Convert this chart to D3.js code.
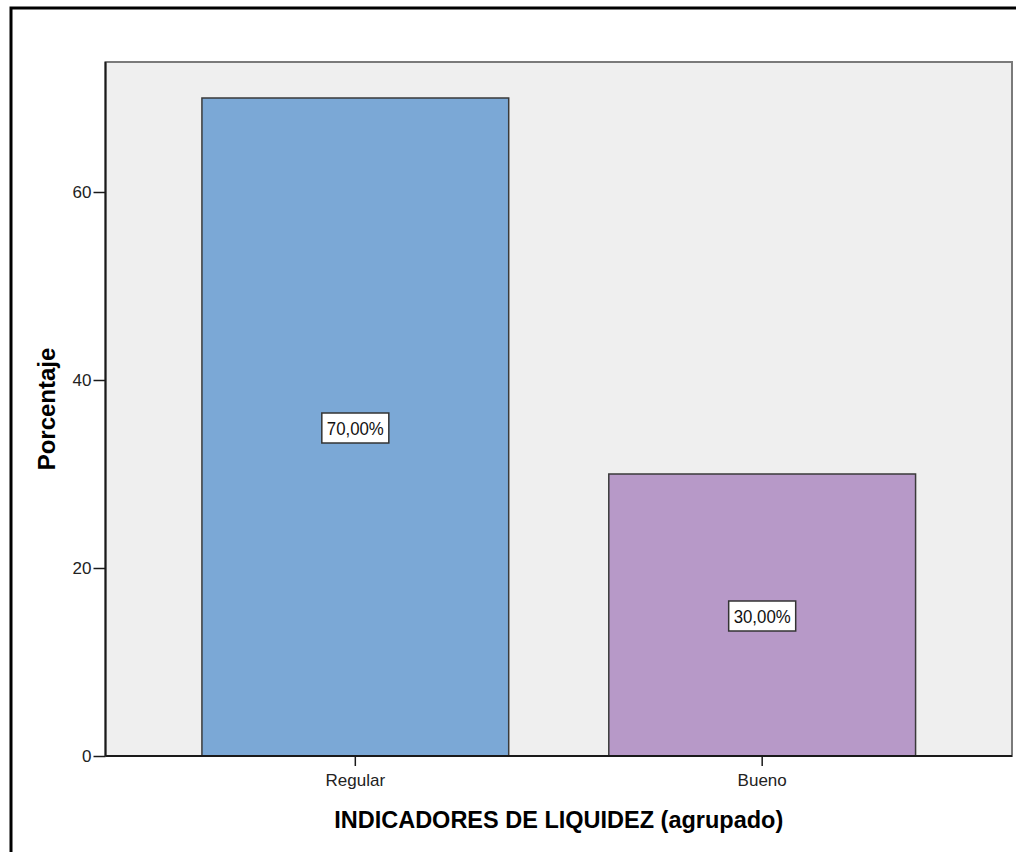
<!DOCTYPE html>
<html>
<head>
<meta charset="utf-8">
<script src="https://cdn.jsdelivr.net/npm/d3@7"></script>
<style>
body { margin: 0; background: #fff; }
text { font-family: Arial, "Liberation Sans", sans-serif; }
</style>
</head>
<body>
<svg id="canvas" width="1016" height="852"></svg>
<script>
var categories = ["Regular", "Bueno"];
var values = [70, 30];
var valueLabels = ["70,00%", "30,00%"];
var colors = ["#7ba8d6", "#b799c8"];
var yTicks = [0, 20, 40, 60];

var svg = d3.select("#canvas");

// outer frame (cut off at right and bottom)
svg.append("rect")
.attr("x", 11).attr("y", 8)
.attr("width", 1100).attr("height", 1000)
.attr("fill", "none")
.attr("stroke", "#000")
.attr("stroke-width", 3);

var plotLeft = 105.5, plotRight = 1012, plotTop = 62, plotBottom = 756;

var xScale = d3.scaleBand()
.domain(categories)
.range([plotLeft, plotRight])
.paddingInner(0.246)
.paddingOuter(0.237);

var yScale = d3.scaleLinear()
.domain([0, 60])
.range([plotBottom, 192]);

// plot background
svg.append("rect")
.attr("x", plotLeft).attr("y", plotTop)
.attr("width", plotRight - plotLeft).attr("height", plotBottom - plotTop)
.attr("fill", "#efefef")
.attr("stroke", "#7a7a7a")
.attr("stroke-width", 2);

// bars
svg.selectAll(".bar")
.data(values)
.enter().append("rect")
.attr("class", "bar")
.attr("x", function(d, i) { return xScale(categories[i]); })
.attr("y", function(d) { return yScale(d); })
.attr("width", xScale.bandwidth())
.attr("height", function(d) { return plotBottom - yScale(d); })
.attr("fill", function(d, i) { return colors[i]; })
.attr("stroke", "#3a3a3a")
.attr("stroke-width", 1.5);

// axes
var yAxis = svg.append("g")
.attr("transform", "translate(" + plotLeft + ",0)")
.call(d3.axisLeft(yScale).tickValues(yTicks).tickSize(12).tickPadding(2).tickFormat(d3.format("d")));

var xAxis = svg.append("g")
.attr("transform", "translate(0," + plotBottom + ")")
.call(d3.axisBottom(xScale).tickSize(10).tickPadding(8));

[yAxis, xAxis].forEach(function(a) {
  a.select(".domain").attr("stroke", "#1a1a1a").attr("stroke-width", 2);
  a.selectAll(".tick line").attr("stroke", "#1a1a1a").attr("stroke-width", 1.5);
  a.selectAll(".tick text")
  .attr("fill", "#222")
  .style("font-size", "17px")
  .style("font-family", "Arial, 'Liberation Sans', sans-serif");
});
yAxis.select(".domain").attr("d", "M0," + plotBottom + "V" + plotTop);
xAxis.select(".domain").attr("d", "M" + plotLeft + ",0H" + plotRight);

// value labels
var lbl = svg.selectAll(".lbl")
.data(values)
.enter().append("g")
.attr("class", "lbl")
.attr("transform", function(d, i) {
  return "translate(" + (xScale(categories[i]) + xScale.bandwidth() / 2) + "," + (yScale(d / 2) + 1) + ")";
});

lbl.append("rect")
.attr("x", -33.5).attr("y", -15)
.attr("width", 67).attr("height", 30)
.attr("fill", "#fff")
.attr("stroke", "#333")
.attr("stroke-width", 1.5);

lbl.append("text")
.attr("text-anchor", "middle")
.attr("dy", "0.36em")
.attr("textLength", 57)
.attr("lengthAdjust", "spacingAndGlyphs")
.style("font-size", "19px")
.attr("fill", "#111")
.text(function(d, i) { return valueLabels[i]; });

// axis titles
svg.append("text")
.attr("x", (plotLeft + plotRight) / 2)
.attr("y", 828)
.attr("text-anchor", "middle")
.style("font-size", "23.5px")
.style("font-weight", "bold")
.text("INDICADORES DE LIQUIDEZ (agrupado)");

svg.append("text")
.attr("transform", "translate(55," + ((plotTop + plotBottom) / 2) + ") rotate(-90)")
.attr("text-anchor", "middle")
.style("font-size", "24px")
.style("font-weight", "bold")
.text("Porcentaje");
</script>
</body>
</html>
